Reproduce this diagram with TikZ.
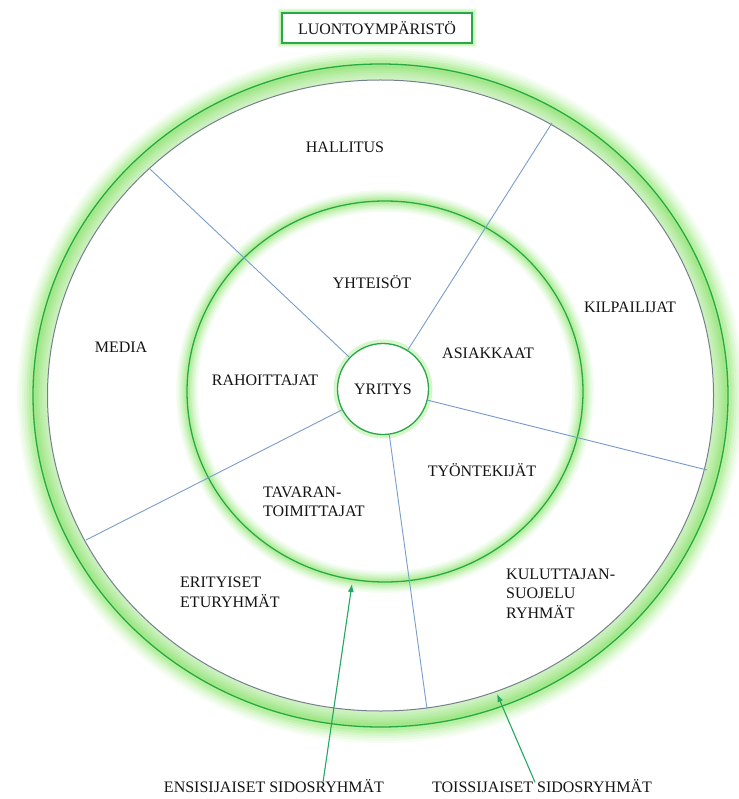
\documentclass[tikz,border=0pt]{standalone}
\usepackage{fontspec}
\setmainfont{Liberation Serif}
\usetikzlibrary{calc, arrows.meta}

\definecolor{ringgreen}{RGB}{40,168,72}
\definecolor{glowgreen}{RGB}{125,228,85}
\definecolor{bandgreen}{RGB}{214,244,204}
\definecolor{spokeblue}{RGB}{122,158,202}
\definecolor{rimgray}{RGB}{118,128,140}
\definecolor{arrowgreen}{RGB}{34,168,98}
\definecolor{txt}{RGB}{20,20,20}

\tikzset{
  lbl/.style={font=\fontsize{16}{19.5}\selectfont, text=txt, inner sep=0pt, align=left},
  glow/.style={
    preaction={draw=glowgreen, opacity=.07, line width=#1},
    preaction={draw=glowgreen, opacity=.08, line width=0.85*#1},
    preaction={draw=glowgreen, opacity=.10, line width=0.70*#1},
    preaction={draw=glowgreen, opacity=.12, line width=0.55*#1},
    preaction={draw=glowgreen, opacity=.16, line width=0.40*#1},
    preaction={draw=glowgreen, opacity=.22, line width=0.25*#1}},
  ring/.style={draw=ringgreen, line width=1.3pt},
  rim/.style={draw=rimgray, line width=1pt, fill=white},
  spoke/.style={draw=spokeblue, line width=0.9pt},
  pointer/.style={draw=arrowgreen, line width=1.1pt, -{Latex[length=8pt,width=6pt]}},
}

\begin{document}
\begin{tikzpicture}[x=1pt,y=-1pt]
\useasboundingbox (0,0) rectangle (738,799);
% Outer band: glowing green rim around the secondary groups
\fill[bandgreen] (380.5,395.5) ellipse [x radius=347.5pt, y radius=331.5pt];
\draw[ring, glow=32pt] (380.5,395.5) ellipse [x radius=347.5pt, y radius=331.5pt];
% Inner gray rim, white inside
\draw[rim] (380.5,395.5) ellipse [x radius=333pt, y radius=315.5pt];
% Ring of the primary groups
\draw[ring, glow=22pt] (385,391.5) ellipse [x radius=198pt, y radius=190.5pt];
% The company in the middle
\draw[glowgreen, opacity=.3, line width=8pt] (383,389) circle [radius=45.5pt];
\node[lbl, circle, fill=white, draw=ringgreen, line width=1.3pt,
      minimum size=91pt, align=center] (yritys) at (383,389) {YRITYS};
% Spoke ends on the gray rim
\coordinate (p1) at (150,169);
\coordinate (p2) at (552,123);
\coordinate (p3) at (707,470);
\coordinate (p4) at (427,709);
\coordinate (p5) at (86,540);
\foreach \p in {p1,p2,p3,p4,p5}
  \draw[spoke] (yritys) -- (\p);
% Secondary groups
\node[lbl] (hallitus) at (345,147) {HALLITUS};
\node[lbl] (kilpailijat) at (630,307) {KILPAILIJAT};
\node[lbl] (media) at (121,347) {MEDIA};
\node[lbl, anchor=west] (erityiset) at (180,592.5) {ERITYISET\\ETURYHMÄT};
\node[lbl, anchor=west] (kuluttaja) at (506,593.5) {KULUTTAJAN-\\SUOJELU\\RYHMÄT};
% Primary groups
\node[lbl] (yhteisot) at (372,282) {YHTEISÖT};
\node[lbl] (asiakkaat) at (488,353) {ASIAKKAAT};
\node[lbl] (rahoittajat) at (265,380) {RAHOITTAJAT};
\node[lbl] (tyontekijat) at (482,470) {TYÖNTEKIJÄT};
\node[lbl, anchor=west] (tavaran) at (263,502) {TAVARAN-\\TOIMITTAJAT};
% Captions below and their pointers
\node[lbl] (ensi) at (274,786) {ENSISIJAISET SIDOSRYHMÄT};
\node[lbl] (toissi) at (542,786) {TOISSIJAISET SIDOSRYHMÄT};
\coordinate (t1) at (352,584);
\coordinate (t2) at (497,694);
\draw[pointer] ([xshift=49pt,yshift=-3pt]ensi.north) -- (t1);
\draw[pointer] ([xshift=-7pt,yshift=-3pt]toissi.north) -- (t2);
% Environment box on top
\node[lbl, draw=ringgreen, line width=1.3pt, glow=10pt, fill=white,
      minimum width=190pt, minimum height=30pt, align=center]
  (luonto) at (377,28) {LUONTOYMPÄRISTÖ};
\end{tikzpicture}
\end{document}
